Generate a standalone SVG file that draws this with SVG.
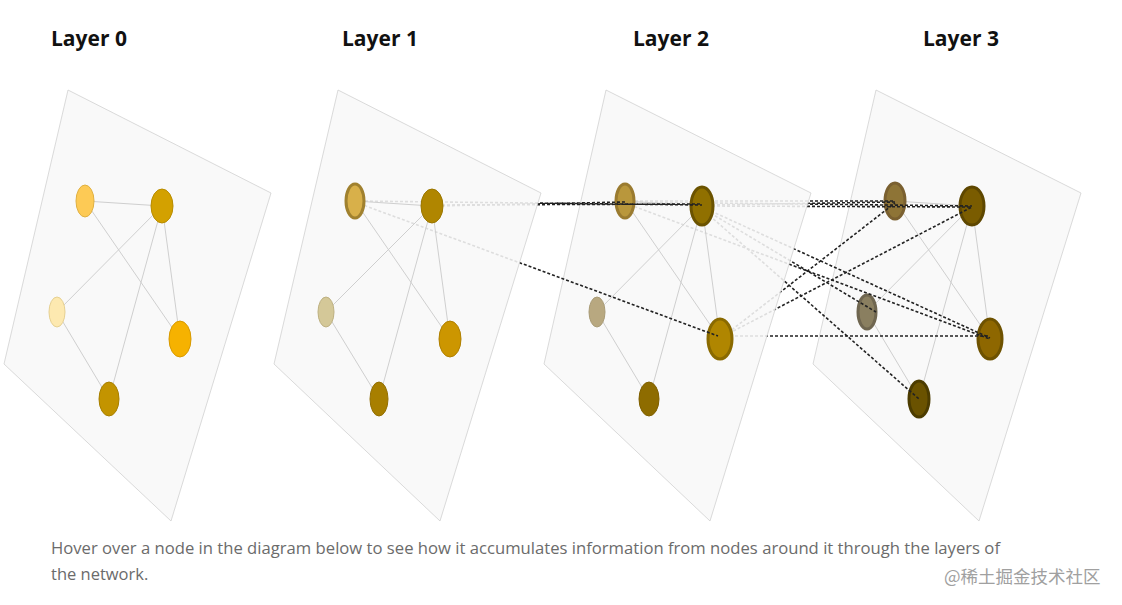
<svg xmlns="http://www.w3.org/2000/svg" width="1122" height="605" viewBox="0 0 1122 605">
<style>
.t{font-family:"Open Sans","Liberation Sans",sans-serif;font-weight:bold;font-size:21px;fill:#111}
.c{font-family:"Open Sans","Liberation Sans",sans-serif;font-size:16.5px;fill:#6b6b6b}
.pl{fill:#f8f8f8;fill-opacity:0.88;stroke:#d0d0d0;stroke-width:0.8}
.e{stroke:#cfcfcf;stroke-width:1;fill:none}
.d{stroke:#222;stroke-width:1.6;stroke-dasharray:3 2;fill:none}
.n{stroke-width:3}
</style>
<rect width="1122" height="605" fill="#fff"/>
<text class="t" x="51" y="46">Layer 0</text>
<text class="t" x="342" y="46">Layer 1</text>
<text class="t" x="633" y="46">Layer 2</text>
<text class="t" x="923" y="46">Layer 3</text>

<g id="layer3">
<polygon class="pl" points="876,90 1081,193 979,521 813,364"/>
<g class="e"><line x1="895" y1="201" x2="972" y2="206"/><line x1="895" y1="201" x2="990" y2="339"/><line x1="972" y1="206" x2="867" y2="312"/><line x1="972" y1="206" x2="990" y2="339"/><line x1="972" y1="206" x2="919" y2="399"/><line x1="867" y1="312" x2="919" y2="399"/></g>
<g id="n3A"><ellipse cx="895" cy="201" rx="10" ry="18" fill="#8e7436" stroke="#7a6030" class="n"/></g>
<g id="n3B"><ellipse cx="972" cy="206" rx="12" ry="19" fill="#7a5c00" stroke="#5e4700" class="n"/></g>
<g id="n3C"><ellipse cx="867" cy="312" rx="9" ry="17" fill="#8a7f60" stroke="#6f6650" class="n"/></g>
<g id="n3D"><ellipse cx="990" cy="339" rx="12" ry="20" fill="#8e6700" stroke="#6e5200" class="n"/></g>
<g id="n3E"><ellipse cx="919" cy="399" rx="10" ry="18" fill="#6a5200" stroke="#4c3c00" class="n"/></g>
</g>

<g id="connectors23">
<line class="d" x1="625" y1="201" x2="895" y2="201"/>
<line class="d" x1="625" y1="202" x2="972" y2="206"/>
<line class="d" x1="702" y1="205" x2="895" y2="202"/>
<line class="d" x1="702" y1="206" x2="972" y2="207"/>
<line class="d" x1="625" y1="203" x2="990" y2="339"/>
<line class="d" x1="702" y1="207" x2="990" y2="338"/>
<line class="d" x1="702" y1="208" x2="876" y2="312"/>
<line class="d" x1="702" y1="209" x2="919" y2="399"/>
<line class="d" x1="720" y1="339" x2="895" y2="203"/>
<line class="d" x1="720" y1="338" x2="972" y2="207"/>
<line class="d" x1="720" y1="336" x2="990" y2="336"/>
</g>

<g id="layer2">
<polygon class="pl" points="606,90 811,193 710,521 544,364"/>
<g class="e"><line x1="625" y1="201" x2="702" y2="206"/><line x1="625" y1="201" x2="720" y2="339"/><line x1="702" y1="206" x2="597" y2="312"/><line x1="702" y1="206" x2="720" y2="339"/><line x1="702" y1="206" x2="649" y2="399"/><line x1="597" y1="312" x2="649" y2="399"/></g>
<g id="n2A"><ellipse cx="625" cy="201" rx="9" ry="17" fill="#b9973c" stroke="#9a7b30" class="n"/></g>
<g id="n2B"><ellipse cx="702" cy="206" rx="11" ry="19" fill="#907000" stroke="#6b5300" class="n"/></g>
<g id="n2C"><ellipse cx="597" cy="312" rx="8" ry="15" fill="#b8a880" stroke="#a89a75" stroke-width="1"/></g>
<g id="n2D"><ellipse cx="720" cy="339" rx="12" ry="20" fill="#b08600" stroke="#8a6a00" class="n"/></g>
<g id="n2E"><ellipse cx="649" cy="399" rx="10" ry="17" fill="#8e6c00" stroke="#806000" stroke-width="1"/></g>
</g>

<g id="connectors12">
<line class="d" x1="432" y1="206" x2="625" y2="202"/>
<line class="d" x1="355" y1="201" x2="702" y2="205"/>
<line class="d" x1="432" y1="205" x2="702" y2="204"/>
<line class="d" x1="355" y1="202" x2="718" y2="336"/>
</g>

<g id="layer1">
<polygon class="pl" points="338,90 541,193 440,521 274,364"/>
<g class="e"><line x1="355" y1="201" x2="432" y2="206"/><line x1="355" y1="201" x2="450" y2="339"/><line x1="432" y1="206" x2="326" y2="312"/><line x1="432" y1="206" x2="450" y2="339"/><line x1="432" y1="206" x2="379" y2="399"/><line x1="326" y1="312" x2="379" y2="399"/></g>
<g id="n1A"><ellipse cx="355" cy="201" rx="9" ry="17" fill="#d8b04a" stroke="#a0812f" class="n"/></g>
<g id="n1B"><ellipse cx="432" cy="206" rx="11" ry="17" fill="#b08600" stroke="#9a7600" stroke-width="1"/></g>
<g id="n1C"><ellipse cx="326" cy="312" rx="8" ry="15" fill="#d4c898" stroke="#bdb080" stroke-width="1"/></g>
<g id="n1D"><ellipse cx="450" cy="339" rx="11" ry="18" fill="#cc9600" stroke="#b08000" stroke-width="1"/></g>
<g id="n1E"><ellipse cx="379" cy="399" rx="9" ry="17" fill="#a87f00" stroke="#926e00" stroke-width="1"/></g>
</g>

<g id="layer0">
<polygon class="pl" points="68,90 271,193 171,521 4,364"/>
<g class="e"><line x1="85" y1="201" x2="162" y2="206"/><line x1="85" y1="201" x2="180" y2="339"/><line x1="162" y1="206" x2="57" y2="312"/><line x1="162" y1="206" x2="180" y2="339"/><line x1="162" y1="206" x2="109" y2="399"/><line x1="57" y1="312" x2="109" y2="399"/></g>
<g id="n0A"><ellipse cx="85" cy="201" rx="9" ry="16" fill="#fdca55" stroke="#e0b040" stroke-width="1"/></g>
<g id="n0B"><ellipse cx="162" cy="206" rx="11" ry="17" fill="#d3a100" stroke="#b88c00" stroke-width="1"/></g>
<g id="n0C"><ellipse cx="57" cy="312" rx="8" ry="15" fill="#fde9b0" stroke="#e6d090" stroke-width="1"/></g>
<g id="n0D"><ellipse cx="180" cy="339" rx="11" ry="18" fill="#f6b200" stroke="#d89a00" stroke-width="1"/></g>
<g id="n0E"><ellipse cx="109" cy="399" rx="10" ry="17" fill="#c39400" stroke="#a88000" stroke-width="1"/></g>
</g>

<text class="c" x="51" y="554" textLength="949" lengthAdjust="spacingAndGlyphs">Hover over a node in the diagram below to see how it accumulates information from nodes around it through the layers of</text>
<text class="c" x="51" y="580">the network.</text>
<text x="944" y="583" style="font-family:'Noto Sans CJK SC',sans-serif;font-size:17.5px;fill:#a0a0a0">@稀土掘金技术社区</text>
</svg>
